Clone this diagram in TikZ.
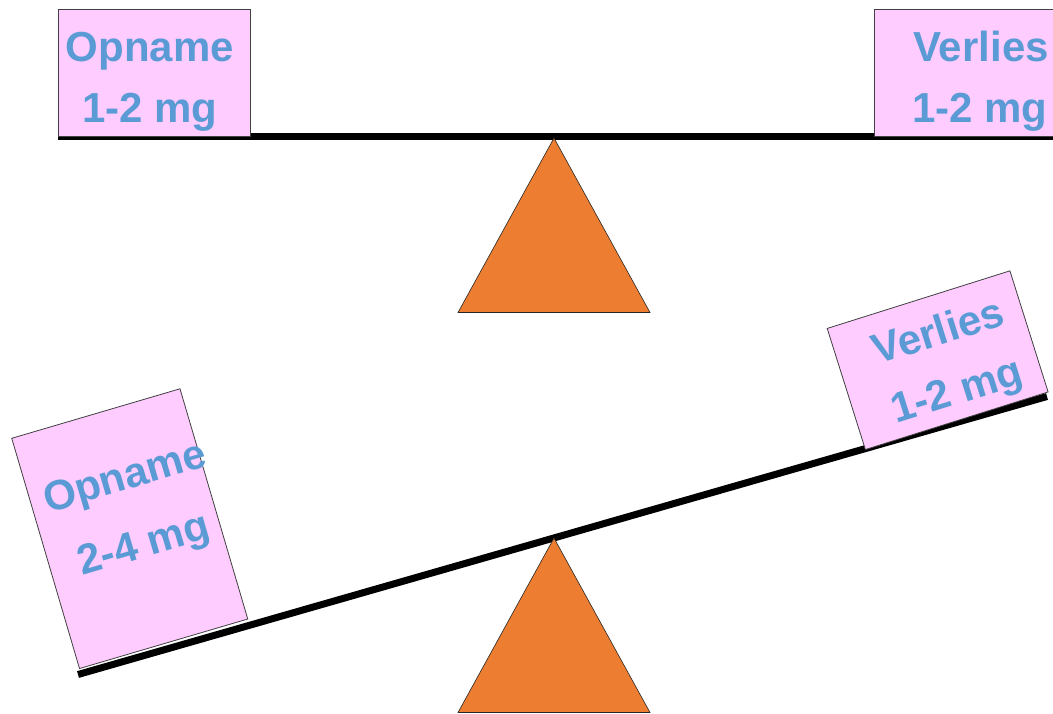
\documentclass[tikz,border=0pt]{standalone}
\usepackage{fontspec}
\setmainfont{Liberation Sans}
\definecolor{pinkbox}{HTML}{FFCCFF}
\definecolor{labelblue}{HTML}{5B9BD5}
\definecolor{fulcrum}{HTML}{ED7D31}
\tikzset{
  weight/.style={draw=black!75, line width=0.8pt, fill=pinkbox, inner sep=0pt},
  lbl/.style={text=labelblue, font=\fontsize{42}{50}\selectfont\bfseries, inner sep=0pt, anchor=base},
  beam/.style={line width=7pt},
  fulcrumtri/.style={fill=fulcrum, draw=black!85, line width=0.6pt, line join=miter}
}
\begin{document}
\begin{tikzpicture}[x=1pt,y=-1pt]
  \useasboundingbox (0,0) rectangle (1053,713);
  \clip (0,0) rectangle (1053,713);

  % balanced scale
  \coordinate (levelL) at (58,136.5);
  \coordinate (levelR) at (1065,136.5);
  \draw[beam] (levelL) -- (levelR);
  \node[weight, minimum width=192pt, minimum height=127pt] (inTop) at (154,72.5) {};
  \node[lbl] (inTopA) at (150,61.5) {Opname};
  \node[lbl] (inTopB) at (150,122) {1-2 mg};
  \node[weight, minimum width=200pt, minimum height=127pt] (outTop) at (974,72.5) {};
  \node[lbl] (outTopA) at (981,61.5) {Verlies};
  \node[lbl] (outTopB) at (980,122) {1-2 mg};
  \draw[fulcrumtri] (554,138) -- (458,312.5) -- (650,312.5) -- cycle;

  % tipped scale
  \coordinate (tiltL) at (78,674.5);
  \coordinate (tiltR) at (1047,396.5);
  \draw[beam] (tiltL) -- (tiltR);
  \begin{scope}[shift={(129.75,528.65)}, rotate=16.4, transform shape]
    \node[weight, minimum width=175.4pt, minimum height=240pt] (inLow) at (0,0) {};
    \node[lbl] (inLowA) at (10,-38) {Opname};
    \node[lbl] (inLowB) at (9,32) {2-4 mg};
  \end{scope}
  \begin{scope}[shift={(937.65,360.2)}, rotate=17.5, transform shape]
    \node[weight, minimum width=191.6pt, minimum height=127pt] (outLow) at (0,0) {};
    \node[lbl] (outLowA) at (9,-13.5) {Verlies};
    \node[lbl] (outLowB) at (9,48.3) {1-2 mg};
  \end{scope}
  \draw[fulcrumtri] (554,538) -- (458,712.5) -- (650,712.5) -- cycle;
\end{tikzpicture}
\end{document}
